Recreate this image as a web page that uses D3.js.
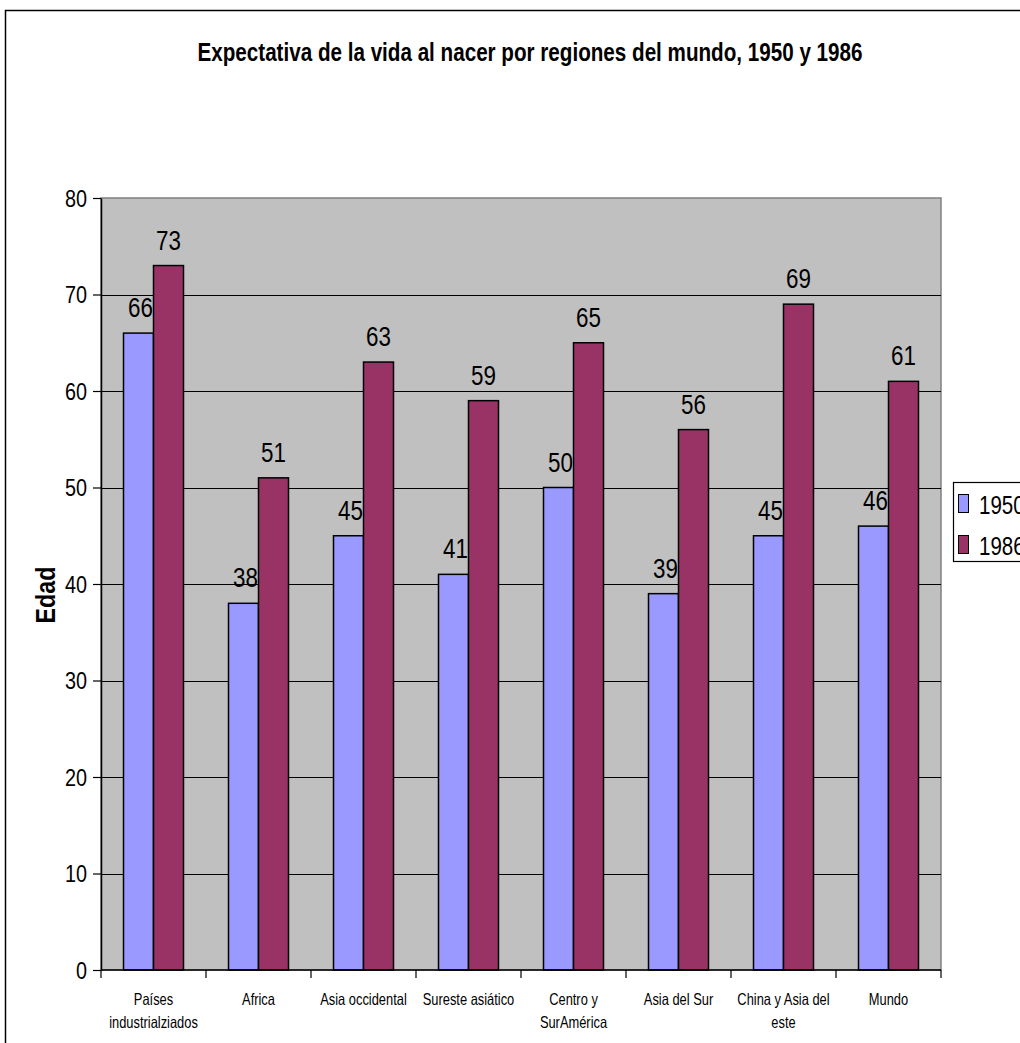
<!DOCTYPE html>
<html>
<head>
<meta charset="utf-8">
<script src="https://cdn.jsdelivr.net/npm/d3@7"></script>
<style>
  html, body { margin: 0; padding: 0; background: #fff; }
  svg { display: block; font-family: Arial, "Liberation Sans", sans-serif; }
</style>
</head>
<body>
<svg id="chart" width="1020" height="1043"></svg>
<script>
// Life expectancy at birth by world region
const categories = [
  ["Países", "industrialziados"],
  ["Africa"],
  ["Asia occidental"],
  ["Sureste asiático"],
  ["Centro y", "SurAmérica"],
  ["Asia del Sur"],
  ["China y Asia del", "este"],
  ["Mundo"]
];
const series = ["1950", "1986"];
const values1950 = [66, 38, 45, 41, 50, 39, 45, 46];
const values1986 = [73, 51, 63, 59, 65, 56, 69, 61];
const yTicks = [0, 10, 20, 30, 40, 50, 60, 70, 80];
const title = "Expectativa de la vida al nacer por regiones del mundo, 1950 y 1986";
const yTitle = "Edad";

const colors = { "1950": "#9999FF", "1986": "#993366" };
const svg = d3.select("#chart");

// outer chart frame (runs past the right and bottom edges)
svg.append("rect")
  .attr("x", 5.5).attr("y", 10.5)
  .attr("width", 1100).attr("height", 1100)
  .attr("fill", "#fff").attr("stroke", "#000").attr("stroke-width", 1.5);

const plot = { left: 101, right: 941, top: 198, bottom: 970 };

const x = d3.scaleBand()
  .domain(d3.range(categories.length))
  .range([plot.left, plot.right])
  .paddingInner(0).paddingOuter(0);

const groupWidth = x.bandwidth() * 60 / 105;
const inner = d3.scaleBand()
  .domain(series)
  .range([0, groupWidth])
  .padding(0);
const groupOffset = (x.bandwidth() - groupWidth) / 2;

const y = d3.scaleLinear().domain([0, 80]).range([plot.bottom, plot.top]);

// plot area
svg.append("rect")
  .attr("x", plot.left).attr("y", plot.top)
  .attr("width", plot.right - plot.left).attr("height", plot.bottom - plot.top)
  .attr("fill", "#C0C0C0").attr("stroke", "#808080").attr("stroke-width", 1.5);

// gridlines
svg.append("g")
  .selectAll("line")
  .data(yTicks.filter(d => d > 0 && d < 80))
  .join("line")
  .attr("x1", plot.left).attr("x2", plot.right)
  .attr("y1", d => Math.round(y(d)) + 0.5).attr("y2", d => Math.round(y(d)) + 0.5)
  .attr("stroke", "#000").attr("stroke-width", 1);

// bars
const rows = categories.map((c, i) => ({ i, "1950": values1950[i], "1986": values1986[i] }));
const groups = svg.append("g").selectAll("g")
  .data(rows)
  .join("g")
  .attr("transform", d => `translate(${x(d.i) + groupOffset},0)`);

groups.selectAll("rect")
  .data(d => series.map(s => ({ s, v: d[s] })))
  .join("rect")
  .attr("x", d => inner(d.s))
  .attr("y", d => y(d.v))
  .attr("width", inner.bandwidth())
  .attr("height", d => y(0) - y(d.v))
  .attr("fill", d => colors[d.s])
  .attr("stroke", "#000").attr("stroke-width", 1.5);

// condensed text helper
function condense(sel, factor) {
  sel.each(function () {
    const w = this.getComputedTextLength();
    d3.select(this).attr("textLength", w * factor).attr("lengthAdjust", "spacingAndGlyphs");
  });
}

// value labels
groups.selectAll("text.val")
  .data(d => series.map(s => ({ s, v: d[s] })))
  .join("text")
  .attr("class", "val")
  .attr("x", d => inner(d.s) + inner.bandwidth() / 2 + (d.s === "1950" ? 2 : 0))
  .attr("y", d => y(d.v) - 16)
  .attr("text-anchor", "middle")
  .attr("font-size", 28)
  .attr("fill", "#000")
  .text(d => d.v)
  .call(condense, 0.8);

// y axis
const yAxis = svg.append("g")
  .attr("transform", `translate(${plot.left},0)`)
  .call(d3.axisLeft(y).tickValues(yTicks).tickSize(8).tickPadding(6).tickSizeOuter(0));
yAxis.select(".domain").attr("stroke", "#000").attr("stroke-width", 1.5);
yAxis.selectAll(".tick line").attr("stroke", "#000").attr("stroke-width", 1.2);
yAxis.selectAll(".tick text")
  .attr("font-size", 23).attr("font-family", "Arial, 'Liberation Sans', sans-serif")
  .attr("fill", "#000").attr("dy", "0.35em")
  .call(condense, 0.86);

// x axis
const xAxisG = svg.append("g").attr("transform", `translate(0,${plot.bottom})`);
xAxisG.append("line")
  .attr("x1", plot.left).attr("x2", plot.right)
  .attr("y1", 0).attr("y2", 0)
  .attr("stroke", "#000").attr("stroke-width", 1.5);
xAxisG.selectAll("line.tick")
  .data(d3.range(categories.length + 1))
  .join("line")
  .attr("class", "tick")
  .attr("x1", i => (i < categories.length ? x(i) : plot.right))
  .attr("x2", i => (i < categories.length ? x(i) : plot.right))
  .attr("y1", 0).attr("y2", 8)
  .attr("stroke", "#000").attr("stroke-width", 1.2);

const xLabels = xAxisG.selectAll("text")
  .data(categories.map((c, i) => ({ c, i })))
  .join("text")
  .attr("text-anchor", "middle")
  .attr("font-size", 16.5)
  .attr("fill", "#000");
xLabels.each(function (d) {
  const t = d3.select(this);
  d.c.forEach((line, k) => {
    t.append("tspan")
      .attr("x", x(d.i) + x.bandwidth() / 2)
      .attr("y", 35 + k * 23)
      .text(line);
  });
});
xLabels.selectAll("tspan").call(condense, 0.78);

// y axis title
svg.append("text")
  .attr("transform", `translate(55,595) rotate(-90)`)
  .attr("text-anchor", "middle")
  .attr("font-size", 27).attr("font-weight", "bold")
  .attr("fill", "#000")
  .text(yTitle)
  .call(condense, 0.86);

// chart title
svg.append("text")
  .attr("x", 530).attr("y", 61)
  .attr("text-anchor", "middle")
  .attr("font-size", 25).attr("font-weight", "bold")
  .attr("fill", "#000")
  .attr("textLength", 665).attr("lengthAdjust", "spacingAndGlyphs")
  .text(title);

// legend
const legend = svg.append("g").attr("transform", "translate(953,482)");
legend.append("rect")
  .attr("x", 0.5).attr("y", 0.5).attr("width", 120).attr("height", 79)
  .attr("fill", "#fff").attr("stroke", "#000").attr("stroke-width", 1.2);
const li = legend.selectAll("g.item")
  .data(series)
  .join("g")
  .attr("class", "item")
  .attr("transform", (d, i) => `translate(0,${12 + i * 41})`);
li.append("rect")
  .attr("x", 5.5).attr("y", 0.5).attr("width", 10).attr("height", 18)
  .attr("fill", d => colors[d]).attr("stroke", "#000").attr("stroke-width", 1);
li.append("text")
  .attr("x", 26).attr("y", 20)
  .attr("font-size", 25).attr("fill", "#000")
  .text(d => d)
  .call(condense, 0.82);
</script>
</body>
</html>
